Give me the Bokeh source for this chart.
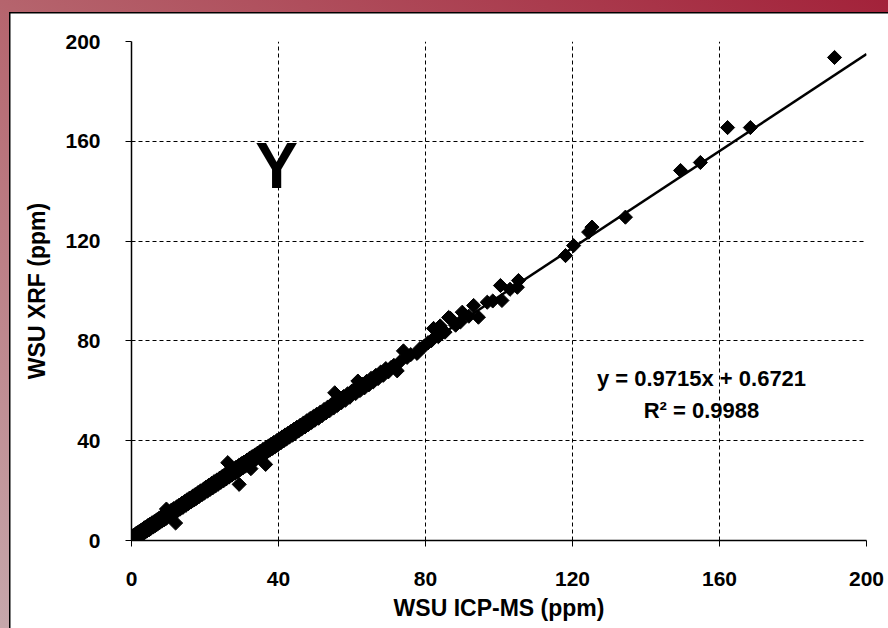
import math
from bokeh.plotting import figure
from bokeh.models import FixedTicker, Label
from bokeh.embed import file_html
from bokeh.resources import INLINE

# ICP-MS (x) vs XRF (y), ppm
x_icpms = [
    0.3,0.5,0.6,0.8,1.0,1.1,1.3,1.5,1.7,1.9,2.1,2.3,2.5,2.8,3.0,3.2,3.5,3.7,4.0,4.2,4.5,4.8,5.0,5.3,5.6,5.9,6.2,6.5,6.8,7.1,7.4,7.7,8.0,8.3,8.6,8.9,9.2,9.5,9.8,
    9.5,12.0,
    10.1,10.4,10.8,11.2,11.5,11.9,12.3,12.6,13.0,13.3,13.7,14.0,14.4,14.8,15.1,15.5,15.8,16.2,16.6,17.0,17.3,17.7,18.1,18.4,18.8,19.2,19.6,19.9,
    20.3,20.7,21.0,21.4,21.8,22.1,22.5,22.9,23.2,23.6,24.0,24.3,24.7,25.1,25.4,25.8,26.2,26.6,26.9,27.3,27.7,28.1,28.4,28.8,29.2,29.6,29.9,
    26.2,29.3,
    30.3,30.6,31.0,31.4,31.7,32.1,32.5,32.8,33.2,33.6,33.9,34.3,34.7,35.0,35.4,35.8,36.1,36.5,36.9,37.3,37.6,38.0,38.4,38.7,39.1,39.5,39.8,
    36.5,32.5,
    40.2,40.6,41.0,41.4,41.8,42.2,42.6,43.0,43.4,43.8,44.2,44.6,45.0,45.5,45.9,46.3,46.8,47.2,47.7,48.1,48.6,49.0,49.5,49.9,
    50.4,50.9,51.4,51.9,52.4,52.9,53.4,53.9,54.4,55.0,55.5,56.0,56.6,57.1,57.7,58.2,58.8,59.4,59.9,
    55.3,
    60.5,61.0,61.6,62.2,62.8,63.4,64.0,64.6,65.2,65.8,66.5,67.1,67.8,68.5,69.2,69.9,
    70.6,71.4,72.3,73.1,74.0,75.0,76.0,77.7,78.5,79.6,
    80.7,81.6,82.2,83.5,84.0,85.3,86.3,86.8,88.2,89.5,
    90.0,91.8,93.1,94.4,96.8,98.3,100.4,100.8,103.0,105.0,105.3,
    118.1,120.3,124.4,125.3,134.4,149.4,154.8,162.2,168.4,191.3,
]
y_xrf = [
    1.8,0.4,2.1,0.6,2.4,0.9,2.9,1.2,3.2,1.5,3.6,2.0,4.0,2.4,4.5,2.8,5.1,3.3,5.5,3.8,6.0,4.3,6.5,4.9,7.1,5.4,7.6,6.0,8.2,6.6,8.8,7.2,9.4,7.8,10.0,8.3,10.6,8.9,11.1,
    12.6,7.0,
    11.5,9.8,12.1,10.6,12.8,11.3,13.5,12.0,14.2,12.7,14.9,13.3,15.6,14.1,16.3,14.8,17.0,15.5,17.7,16.2,18.4,16.9,19.2,17.6,19.9,18.4,20.6,19.1,
    21.4,19.8,22.1,20.5,22.9,21.1,23.6,21.9,24.2,22.6,25.0,23.3,25.7,24.0,26.4,24.7,27.2,25.5,27.9,26.2,28.6,27.0,29.3,27.6,30.1,28.4,30.8,
    31.2,22.5,
    29.1,31.4,29.8,32.2,30.5,32.9,31.2,33.6,31.9,34.3,32.6,35.0,33.4,35.7,34.0,36.5,34.7,37.1,35.5,37.9,36.2,38.6,36.9,39.3,37.6,40.0,38.3,
    30.5,28.8,
    40.7,39.1,41.5,39.9,42.3,40.7,43.0,41.5,43.8,42.2,44.6,43.0,45.4,43.9,46.2,44.7,47.1,45.5,48.0,46.4,48.9,47.3,49.7,48.2,
    50.6,49.0,51.5,50.1,52.5,51.1,53.5,52.0,54.5,53.1,55.6,54.1,56.6,55.2,57.7,56.2,58.8,57.4,59.8,
    59.2,
    60.4,58.9,63.9,60.1,62.7,61.2,63.8,62.4,65.0,63.6,66.2,64.9,67.5,66.2,68.9,67.6,
    69.3,70.2,68.0,71.7,76.0,73.4,74.5,75.0,76.9,77.8,
    79.3,80.1,85.0,81.7,86.0,83.5,89.4,89.0,86.3,87.6,
    91.5,89.9,94.2,89.5,95.5,96.0,102.2,96.2,100.7,101.5,104.2,
    114.2,118.2,123.6,125.6,129.6,148.3,151.5,165.5,165.5,193.6,
]

slope = 0.9715
intercept = 0.6721
fit_x = [0, 200]
fit_y = [intercept + slope * v for v in fit_x]

ticks = [0, 40, 80, 120, 160, 200]
x_title = "WSU ICP-MS (ppm)"
y_title = "WSU XRF (ppm)"
panel_label = "Y"
eq_text = "y = 0.9715x + 0.6721"
r2_text = "R\u00b2 = 0.9988"

FONT = "Liberation Sans"

p = figure(width=888, height=628, x_range=(0, 200), y_range=(0, 200),
           output_backend="svg", toolbar_location=None,
           min_border_left=131, min_border_right=22,
           min_border_top=41, min_border_bottom=88)
# reddish gradient frame with a white panel (black top/left edge) on top of it
p.styles = {
    "background": (
        "linear-gradient(#000, #000) 9px 12px / 100% 1.5px no-repeat, "
        "linear-gradient(#000, #000) 9px 12px / 1.5px 100% no-repeat, "
        "linear-gradient(#fff, #fff) 10px 13px / 100% 100% no-repeat, "
        "linear-gradient(to bottom left, #a3223a 0%, #b5646d 50%, #c6a7ab 100%)"
    ),
}
p.background_fill_color = "white"
p.border_fill_color = None
p.outline_line_color = None

for ax in (p.xaxis[0], p.yaxis[0]):
    ax.ticker = FixedTicker(ticks=ticks)
    ax.major_label_text_font = FONT
    ax.major_label_text_font_style = "bold"
    ax.major_label_text_font_size = "21px"
    ax.major_label_text_color = "black"
    ax.axis_label_text_font = FONT
    ax.axis_label_text_font_style = "bold"
    ax.axis_label_text_font_size = "23px"
    ax.axis_label_text_color = "black"
    ax.axis_line_color = "black"
    ax.axis_line_width = 1.5
    ax.major_tick_line_color = "black"
    ax.major_tick_in = 0
    ax.major_tick_out = 6
    ax.minor_tick_line_color = None

p.xaxis[0].axis_label = x_title
p.yaxis[0].axis_label = y_title
p.xaxis[0].major_label_standoff = 25
p.yaxis[0].major_label_standoff = 25
p.xaxis[0].axis_label_standoff = 6
p.yaxis[0].axis_label_standoff = 12

for g in (p.xgrid[0], p.ygrid[0]):
    g.ticker = FixedTicker(ticks=ticks)
    g.grid_line_color = "black"
    g.grid_line_dash = "4 3"
    g.grid_line_width = 1

p.line(fit_x, fit_y, line_color="black", line_width=2.5)
p.scatter(x_icpms, y_xrf, marker="square", size=10, angle=math.pi / 4,
          fill_color="black", line_color="black")

p.add_layout(Label(x=39.5, y=150.3, text=panel_label, text_align="center", text_baseline="middle",
                   text_font=FONT, text_font_style="bold", text_font_size="64px", text_color="black"))
p.add_layout(Label(x=155.1, y=64.9, text=eq_text, text_align="center", text_baseline="middle",
                   text_font=FONT, text_font_style="bold", text_font_size="22px", text_color="black"))
p.add_layout(Label(x=155.1, y=52.1, text=r2_text, text_align="center", text_baseline="middle",
                   text_font=FONT, text_font_style="bold", text_font_size="22px", text_color="black"))

open("out.html", "w").write(file_html(p, INLINE))
